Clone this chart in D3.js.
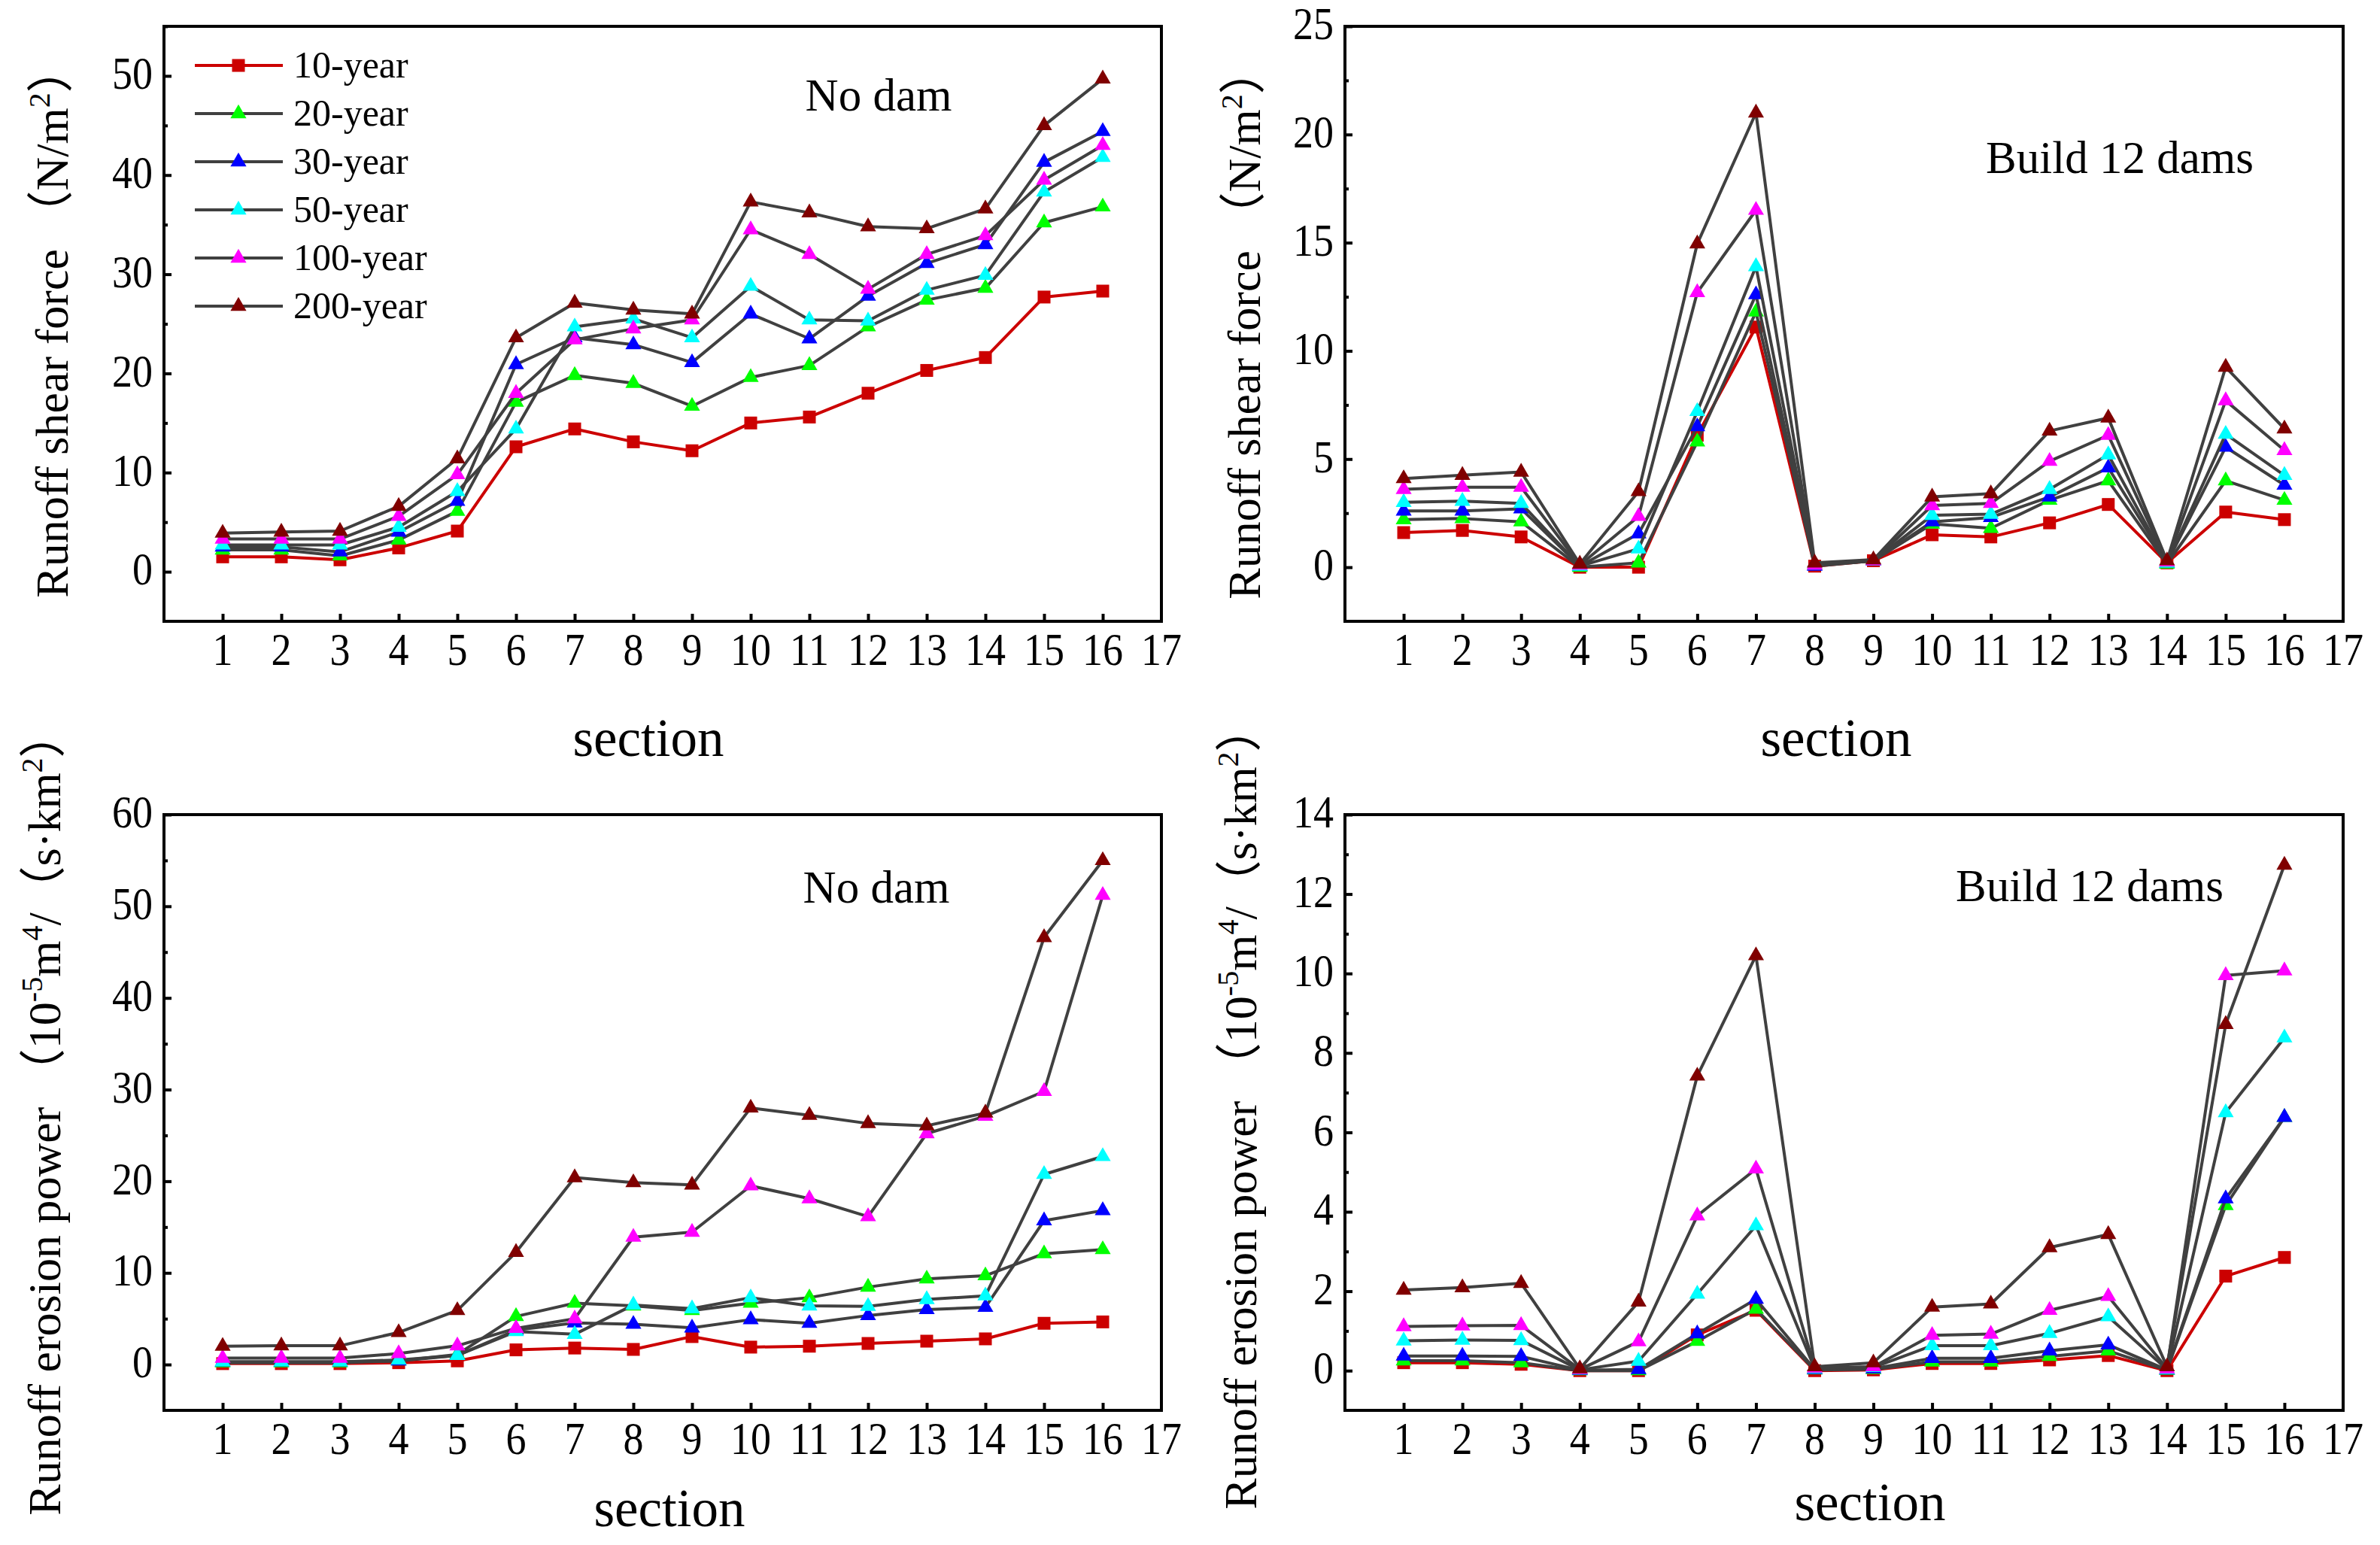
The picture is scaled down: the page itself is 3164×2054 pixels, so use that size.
<!DOCTYPE html>
<html>
<head>
<meta charset="utf-8">
<script src="https://cdn.jsdelivr.net/npm/d3@7"></script>
<style>
  body { margin: 0; background: #fff; }
  text { font-family: "Liberation Serif", "Noto Sans CJK SC", serif; fill: #000; }
</style>
</head>
<body>
<div id="chart"></div>
<script>
//data
var sections = d3.range(1, 17);
var xTicks = d3.range(1, 18);
var seriesNames = ['10-year', '20-year', '30-year', '50-year', '100-year', '200-year'];

// runoff shear force, no dam (N/m2)
var shearNoDam = [
  [1.5, 1.5, 1.2, 2.4, 4.1, 12.6, 14.4, 13.1, 12.2, 15.0, 15.6, 18.0, 20.3, 21.6, 27.7, 28.3],
  [2.2, 2.2, 1.6, 3.2, 6.1, 17.1, 19.8, 19.0, 16.7, 19.6, 20.8, 24.7, 27.4, 28.6, 35.2, 36.8],
  [2.5, 2.5, 2.0, 4.0, 7.1, 20.9, 23.6, 22.9, 21.1, 26.0, 23.5, 27.8, 31.1, 33.0, 41.3, 44.4],
  [2.7, 2.7, 2.7, 4.5, 8.1, 14.4, 24.7, 25.5, 23.6, 28.8, 25.4, 25.3, 28.4, 29.9, 38.3, 41.8],
  [3.3, 3.3, 3.3, 5.6, 9.8, 18.0, 23.4, 24.5, 25.4, 34.5, 32.0, 28.5, 32.0, 33.9, 39.5, 43.0],
  [3.9, 4.0, 4.1, 6.6, 11.4, 23.6, 27.1, 26.4, 26.0, 37.3, 36.2, 34.8, 34.6, 36.6, 45.0, 49.7]
];

// runoff shear force, 12 dams
var shearDams = [
  [1.6, 1.7, 1.4, 0.0, 0.0, 6.1, 11.1, 0.05, 0.3, 1.5, 1.4, 2.05, 2.9, 0.2, 2.55, 2.2],
  [2.2, 2.25, 2.1, 0.0, 0.2, 5.8, 11.8, 0.1, 0.3, 2.0, 1.8, 3.1, 4.0, 0.15, 4.0, 3.1],
  [2.6, 2.6, 2.7, 0.05, 1.55, 6.5, 12.6, 0.05, 0.3, 2.1, 2.3, 3.25, 4.6, 0.2, 5.55, 3.8],
  [3.0, 3.05, 2.95, 0.05, 0.85, 7.2, 13.9, 0.1, 0.3, 2.4, 2.45, 3.6, 5.2, 0.2, 6.15, 4.25],
  [3.6, 3.7, 3.7, 0.1, 2.35, 12.7, 16.5, 0.1, 0.3, 2.85, 2.95, 4.9, 6.1, 0.25, 7.7, 5.4],
  [4.1, 4.25, 4.4, 0.15, 3.5, 14.95, 21.0, 0.2, 0.35, 3.25, 3.4, 6.3, 6.9, 0.3, 9.25, 6.4]
];

// runoff erosion power, no dam
var erosionNoDam = [
  [0.1, 0.1, 0.1, 0.2, 0.4, 1.6, 1.8, 1.65, 3.05, 1.9, 2.0, 2.3, 2.55, 2.8, 4.5, 4.65],
  [0.2, 0.2, 0.2, 0.4, 1.1, 5.25, 6.7, 6.4, 5.9, 6.7, 7.3, 8.45, 9.35, 9.7, 12.1, 12.55],
  [0.3, 0.3, 0.3, 0.4, 1.0, 3.75, 4.55, 4.4, 4.0, 4.9, 4.5, 5.35, 6.0, 6.25, 15.7, 16.8],
  [0.3, 0.3, 0.3, 0.5, 1.0, 3.6, 3.3, 6.5, 6.1, 7.3, 6.4, 6.35, 7.1, 7.5, 20.75, 22.7],
  [0.7, 0.7, 0.7, 1.2, 2.05, 3.95, 5.0, 13.9, 14.45, 19.5, 18.1, 16.15, 25.2, 27.1, 29.8, 51.2],
  [2.0, 2.05, 2.05, 3.5, 5.9, 12.25, 20.4, 19.85, 19.6, 28.0, 27.2, 26.3, 26.05, 27.45, 46.6, 55.0]
];

// runoff erosion power, 12 dams
var erosionDams = [
  [0.2, 0.2, 0.16, 0, 0, 0.9, 1.52, 0, 0.02, 0.18, 0.18, 0.27, 0.38, 0, 2.38, 2.85],
  [0.25, 0.25, 0.2, 0, 0, 0.74, 1.55, 0.02, 0.03, 0.22, 0.22, 0.36, 0.5, 0.01, 4.16, 6.38],
  [0.37, 0.37, 0.36, 0.01, 0.03, 0.93, 1.8, 0.03, 0.05, 0.31, 0.31, 0.5, 0.65, 0.02, 4.33, 6.38],
  [0.75, 0.77, 0.76, 0.02, 0.24, 1.93, 3.65, 0.05, 0.08, 0.63, 0.63, 0.94, 1.36, 0.03, 6.5, 8.38],
  [1.11, 1.13, 1.14, 0.03, 0.73, 3.9, 5.08, 0.07, 0.1, 0.89, 0.92, 1.52, 1.87, 0.05, 9.95, 10.07],
  [2.03, 2.09, 2.2, 0.05, 1.73, 7.42, 10.45, 0.1, 0.2, 1.6, 1.68, 3.1, 3.43, 0.1, 8.72, 12.73]
];

//y ticks per panel
var shearNoDamTicks = [0, 10, 20, 30, 40, 50];
var shearDamsTicks = [0, 5, 10, 15, 20, 25];
var erosionNoDamTicks = [0, 10, 20, 30, 40, 50, 60];
var erosionDamsTicks = [0, 2, 4, 6, 8, 10, 12, 14];

//styles
var markerColors = ['#cc0000', '#00ff00', '#0000ff', '#00ffff', '#ff00ff', '#800000'];
var lineColors = ['#cc0000', '#404040', '#404040', '#404040', '#404040', '#404040'];
var width = 3164;
var height = 2054;
var labelStretch = 1.15;

var svg = d3.select('#chart')
  .append('svg')
  .attr('width', width)
  .attr('height', height);

svg.append('rect').attr('width', width).attr('height', height).attr('fill', '#fff');

function marker(i) {
  if (i === 0) return d3.symbol().type(d3.symbolSquare).size(290)();
  return d3.symbol().type(d3.symbolTriangle).size(195)();
}

function drawPanel(p) {
  var x = d3.scaleLinear().domain([0, 17]).range([p.left, p.right]);
  var y = d3.scaleLinear().domain(p.yDomain).range([p.bottom, p.top]);
  var g = svg.append('g');

  // minor + major ticks, inward
  var minor = d3.range(p.yDomain[0], p.yDomain[1] + 1e-9, p.minorStep)
    .filter(function(v) { return v > p.yDomain[0] && p.ticks.indexOf(v) < 0; });
  g.append('g')
    .attr('transform', 'translate(' + p.left + ',0)')
    .call(d3.axisLeft(y).tickValues(minor).tickSize(-5).tickFormat(''))
    .call(function(a) { a.select('.domain').remove(); a.selectAll('line').attr('stroke', '#000').attr('stroke-width', 4); });
  g.append('g')
    .attr('transform', 'translate(' + p.left + ',0)')
    .call(d3.axisLeft(y).tickValues(p.ticks).tickSize(-10).tickFormat(''))
    .call(function(a) { a.select('.domain').remove(); a.selectAll('line').attr('stroke', '#000').attr('stroke-width', 4); });
  g.append('g')
    .attr('transform', 'translate(0,' + p.bottom + ')')
    .call(d3.axisBottom(x).tickValues(sections).tickSize(-10).tickFormat(''))
    .call(function(a) { a.select('.domain').remove(); a.selectAll('line').attr('stroke', '#000').attr('stroke-width', 4); });

  // tick labels
  g.selectAll('.ylab').data(p.ticks).enter().append('text')
    .attr('transform', function(d) { return 'translate(' + (p.left - 15) + ',' + y(d) + ') scale(1,' + labelStretch + ')'; })
    .attr('y', 15)
    .attr('text-anchor', 'end')
    .attr('font-size', 54)
    .text(function(d) { return d; });
  g.selectAll('.xlab').data(xTicks).enter().append('text')
    .attr('transform', function(d) { return 'translate(' + x(d) + ',' + (p.bottom + 58) + ') scale(1,' + labelStretch + ')'; })
    .attr('text-anchor', 'middle')
    .attr('font-size', 54)
    .text(function(d) { return d; });

  // frame
  g.append('rect')
    .attr('x', p.left).attr('y', p.top)
    .attr('width', p.right - p.left).attr('height', p.bottom - p.top)
    .attr('fill', 'none').attr('stroke', '#000').attr('stroke-width', 4);

  // series
  var line = d3.line()
    .x(function(d, i) { return x(sections[i]); })
    .y(function(d) { return y(d); });
  p.data.forEach(function(vals, s) {
    g.append('path')
      .attr('d', line(vals))
      .attr('fill', 'none')
      .attr('stroke', lineColors[s])
      .attr('stroke-width', 4)
      .attr('stroke-linejoin', 'round');
    g.selectAll('.m' + s).data(vals).enter().append('path')
      .attr('d', marker(s))
      .attr('transform', function(d, i) { return 'translate(' + x(sections[i]) + ',' + y(d) + ')'; })
      .attr('fill', markerColors[s]);
  });

  // panel note
  g.append('text')
    .attr('x', p.noteX).attr('y', p.noteY)
    .attr('text-anchor', 'middle')
    .attr('font-size', 61)
    .text(p.note);

  // x title
  g.append('text')
    .attr('x', p.secX).attr('y', p.secY)
    .attr('text-anchor', 'middle')
    .attr('font-size', 71)
    .text('section');

  // y title
  var t = g.append('text')
    .attr('transform', 'translate(' + p.titleX + ',' + p.titleY + ') rotate(-90)')
    .attr('text-anchor', 'middle')
    .attr('font-size', 62);
  p.title.forEach(function(part) {
    var ts = t.append('tspan').text(part[0]);
    if (part[1] === 'sup') ts.attr('font-size', 40).attr('dy', -24);
    if (part[1] === 'down') ts.attr('dy', 24);
  });
}

var shearTitle = [['Runoff shear force （N/m'], ['2', 'sup'], ['）', 'down']];
var erosionTitle = [['Runoff erosion power （10'], ['-5', 'sup'], ['m', 'down'], ['4', 'sup'],
  ['/（s·km', 'down'], ['2', 'sup'], ['）', 'down']];

drawPanel({ left: 218, right: 1544, top: 35, bottom: 826, yDomain: [-5, 55], ticks: shearNoDamTicks, minorStep: 5,
  data: shearNoDam, note: 'No dam', noteX: 1168, noteY: 147, secX: 862, secY: 1005,
  title: shearTitle, titleX: 90, titleY: 428 });
drawPanel({ left: 1788, right: 3115, top: 35, bottom: 826, yDomain: [-2.5, 25], ticks: shearDamsTicks, minorStep: 2.5,
  data: shearDams, note: 'Build 12 dams', noteX: 2818, noteY: 230, secX: 2441, secY: 1005,
  title: shearTitle, titleX: 1675, titleY: 430 });
drawPanel({ left: 218, right: 1544, top: 1083, bottom: 1875, yDomain: [-5, 60], ticks: erosionNoDamTicks, minorStep: 5,
  data: erosionNoDam, note: 'No dam', noteX: 1165, noteY: 1200, secX: 890, secY: 2029,
  title: erosionTitle, titleX: 80, titleY: 1480 });
drawPanel({ left: 1788, right: 3115, top: 1083, bottom: 1875, yDomain: [-1, 14], ticks: erosionDamsTicks, minorStep: 1,
  data: erosionDams, note: 'Build 12 dams', noteX: 2778, noteY: 1198, secX: 2486, secY: 2021,
  title: erosionTitle, titleX: 1670, titleY: 1472 });

//legend
var legend = svg.append('g');
seriesNames.forEach(function(name, i) {
  var ly = 87 + i * 64;
  legend.append('line')
    .attr('x1', 259).attr('x2', 376).attr('y1', ly).attr('y2', ly)
    .attr('stroke', lineColors[i]).attr('stroke-width', 4);
  legend.append('path')
    .attr('d', marker(i))
    .attr('transform', 'translate(317,' + ly + ')')
    .attr('fill', markerColors[i]);
  legend.append('text')
    .attr('x', 390).attr('y', ly + 16)
    .attr('font-size', 50)
    .text(name);
});
</script>
</body>
</html>
